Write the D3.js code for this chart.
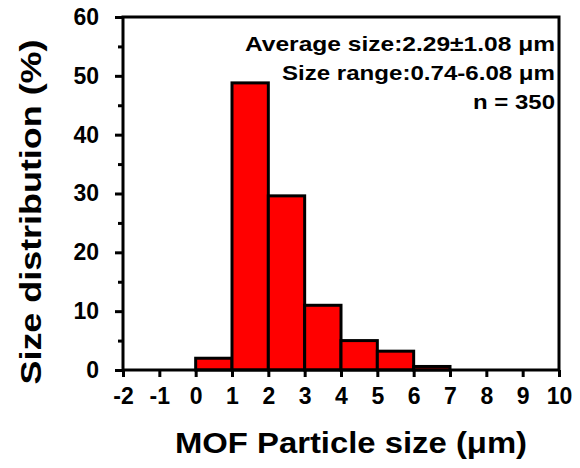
<!DOCTYPE html>
<html>
<head>
<meta charset="utf-8">
<script src="https://cdn.jsdelivr.net/npm/d3@7"></script>
<style>
  body { margin: 0; background: #fff; }
  text { font-family: "Liberation Sans", Arial, sans-serif; font-weight: bold; fill: #000; }
</style>
</head>
<body>
<div id="chart"></div>
<script>
// histogram bins (um) and percentages
var binStart = [0, 1, 2, 3, 4, 5, 6];
var binEnd = [1, 2, 3, 4, 5, 6, 7];
var percent = [2.0, 48.8, 29.6, 11.0, 5.0, 3.2, 0.6];
var xTicks = [-2, -1, 0, 1, 2, 3, 4, 5, 6, 7, 8, 9, 10];
var yTicks = [0, 10, 20, 30, 40, 50, 60];
var yMinorTicks = [5, 15, 25, 35, 45, 55];
var notes = ["Average size:2.29\u00b11.08 \u03bcm", "Size range:0.74-6.08 \u03bcm", "n = 350"];
var noteWidths = [310, 273, 82];

var svgWidth = 580;
var svgHeight = 468;
var margin = { top: 17, right: 21, bottom: 98, left: 123 };
var width = svgWidth - margin.left - margin.right;
var height = svgHeight - margin.top - margin.bottom;

var svg = d3.select("#chart")
  .append("svg")
  .attr("width", svgWidth)
  .attr("height", svgHeight);

var chartGroup = svg.append("g")
  .attr("transform", `translate(${margin.left}, ${margin.top})`);

var xScale = d3.scaleLinear().domain([-2, 10]).range([0, width]);
var yScale = d3.scaleLinear().domain([0, 60]).range([height, 0]);

// bars
chartGroup.selectAll(".bar")
  .data(percent)
  .enter()
  .append("rect")
  .attr("class", "bar")
  .attr("x", (d, i) => xScale(binStart[i]))
  .attr("y", d => yScale(d))
  .attr("width", (d, i) => xScale(binEnd[i]) - xScale(binStart[i]))
  .attr("height", d => height - yScale(d))
  .attr("fill", "#ff0000")
  .attr("stroke", "#000")
  .attr("stroke-width", 3);

// axes (plain hyphen for negatives, like the original)
var bottomAxis = d3.axisBottom(xScale).tickValues(xTicks).tickSize(7).tickPadding(11).tickFormat(d => String(d));
var leftAxis = d3.axisLeft(yScale).tickValues(yTicks).tickSize(8).tickPadding(16);
var leftMinor = d3.axisLeft(yScale).tickValues(yMinorTicks).tickSize(5).tickFormat("");

var xg = chartGroup.append("g")
  .attr("transform", `translate(0, ${height})`)
  .call(bottomAxis);
var yg = chartGroup.append("g").call(leftAxis);
var ym = chartGroup.append("g").call(leftMinor);

[xg, yg, ym].forEach(function (g) {
  g.select(".domain").remove();
  g.selectAll("line").attr("stroke", "#000").attr("stroke-width", 3);
  g.selectAll("text")
    .style("font-size", "23px")
    .style("font-family", "'Liberation Sans', Arial, sans-serif")
    .style("font-weight", "bold");
});

// frame
chartGroup.append("rect")
  .attr("x", 0)
  .attr("y", 0)
  .attr("width", width)
  .attr("height", height)
  .attr("fill", "none")
  .attr("stroke", "#000")
  .attr("stroke-width", 3);

// notes
chartGroup.selectAll(".note")
  .data(notes)
  .enter()
  .append("text")
  .attr("class", "note")
  .attr("x", width - 4)
  .attr("y", (d, i) => 34 + i * 29)
  .attr("text-anchor", "end")
  .attr("textLength", (d, i) => noteWidths[i])
  .attr("lengthAdjust", "spacingAndGlyphs")
  .style("font-size", "21px")
  .text(d => d);

// axis titles
chartGroup.append("text")
  .attr("transform", "rotate(-90)")
  .attr("x", -195)
  .attr("y", -82)
  .attr("text-anchor", "middle")
  .attr("textLength", 345)
  .attr("lengthAdjust", "spacingAndGlyphs")
  .style("font-size", "30px")
  .text("Size distribution (%)");

chartGroup.append("text")
  .attr("x", 228)
  .attr("y", 436)
  .attr("text-anchor", "middle")
  .attr("textLength", 352)
  .attr("lengthAdjust", "spacingAndGlyphs")
  .style("font-size", "29px")
  .text("MOF Particle size (\u03bcm)");
</script>
</body>
</html>
